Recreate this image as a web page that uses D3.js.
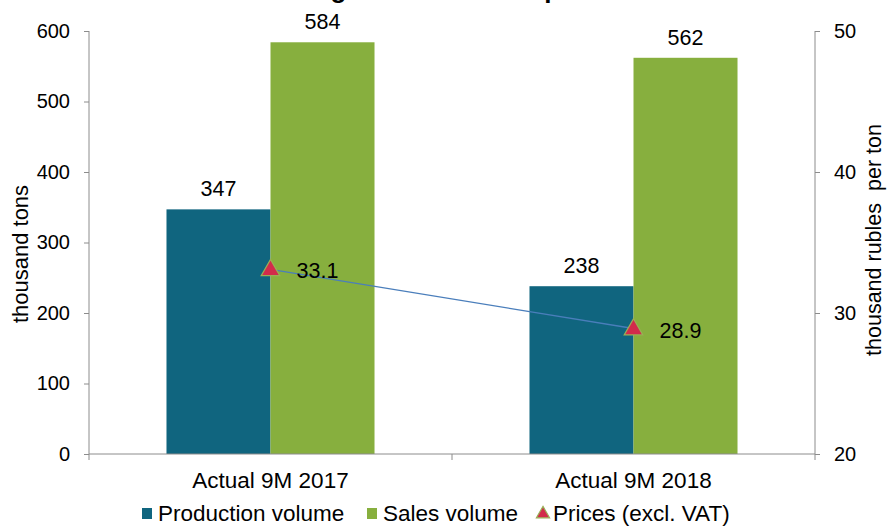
<!DOCTYPE html>
<html>
<head>
<meta charset="utf-8">
<script src="https://cdn.jsdelivr.net/npm/d3@7"></script>
<style>
  html, body { margin: 0; padding: 0; background: #fff; }
  svg { display: block; font-family: Arial, "Liberation Sans", sans-serif; }
</style>
</head>
<body>
<svg id="chart" width="887" height="527"></svg>
<script>
// Periods on the category axis
const categories = ["Actual 9M 2017", "Actual 9M 2018"];
// Volumes, thousand tons (left axis)
const productionVolume = [347, 238];
const salesVolume = [584, 562];
// Average price excl. VAT, thousand rubles per ton (right axis)
const prices = [33.1, 28.9];
// Axis ticks
const leftTicks = [0, 100, 200, 300, 400, 500, 600];
const rightTicks = [20, 30, 40, 50];

const title = "Sugar volumes and prices";
const seriesNames = ["Production volume", "Sales volume", "Prices (excl. VAT)"];
const colors = { production: "#10657f", sales: "#87af3e", price: "#d22b4b", priceStroke: "#9aae57", line: "#4a7ebb", axis: "#8c8c8c" };

const svg = d3.select("#chart");
const margin = { left: 89, right: 815, top: 31, bottom: 454 };

const x0 = d3.scaleBand().domain(categories).range([margin.left, margin.right]).padding(0);
const x1 = d3.scaleBand().domain(["production", "sales"]).range([0, x0.bandwidth()])
  .paddingInner(0).paddingOuter(0.745);
const yL = d3.scaleLinear().domain([0, 600]).range([margin.bottom, margin.top]);
const yR = d3.scaleLinear().domain([20, 50]).range([margin.bottom, margin.top]);

// Title (sits mostly above the visible area)
svg.append("text")
  .attr("x", 459).attr("y", -2)
  .attr("text-anchor", "middle")
  .attr("font-weight", "bold").attr("font-size", 26)
  .text(title);

// Bars
const rows = categories.map((c, i) => ({ cat: c, production: productionVolume[i], sales: salesVolume[i], price: prices[i] }));
const groups = svg.append("g").selectAll("g").data(rows).join("g")
  .attr("transform", d => `translate(${x0(d.cat)},0)`);

["production", "sales"].forEach(key => {
  groups.append("rect")
    .attr("x", x1(key))
    .attr("width", x1.bandwidth())
    .attr("y", d => yL(d[key]))
    .attr("height", d => yL(0) - yL(d[key]))
    .attr("fill", colors[key]);
  groups.append("text")
    .attr("x", x1(key) + x1.bandwidth() / 2)
    .attr("y", d => yL(d[key]) - 13)
    .attr("text-anchor", "middle")
    .attr("font-size", 21.5)
    .attr("fill", "#000")
    .text(d => d[key]);
});

// Left and right value axes
const leftAxis = d3.axisLeft(yL).tickValues(leftTicks).tickSize(5).tickPadding(14);
const gL = svg.append("g").attr("transform", `translate(${margin.left},0)`).call(leftAxis);
const rightAxis = d3.axisRight(yR).tickValues(rightTicks).tickSize(5).tickPadding(14);
const gR = svg.append("g").attr("transform", `translate(${margin.right},0)`).call(rightAxis);
[gL, gR].forEach(g => {
  g.select(".domain").attr("stroke", colors.axis).attr("d", `M0,${margin.top}V${margin.bottom}`);
  g.selectAll(".tick line").attr("stroke", colors.axis);
  g.selectAll(".tick text").attr("font-size", 20).attr("fill", "#000").attr("font-family", "Arial, 'Liberation Sans', sans-serif");
});

// Category axis with marks between categories
const gX = svg.append("g").attr("transform", `translate(0,${margin.bottom})`);
gX.append("line").attr("x1", margin.left).attr("x2", margin.right).attr("stroke", colors.axis);
const boundaries = [x0.range()[0]].concat(categories.map(c => x0(c) + x0.bandwidth()));
gX.selectAll(".sep").data(boundaries).join("line")
  .attr("x1", d => d).attr("x2", d => d).attr("y1", 0).attr("y2", 6)
  .attr("stroke", colors.axis);
gX.selectAll(".cat").data(categories).join("text")
  .attr("x", d => x0(d) + x0.bandwidth() / 2)
  .attr("y", 34)
  .attr("text-anchor", "middle")
  .attr("font-size", 22.5)
  .text(d => d);

// Axis titles
svg.append("text")
  .attr("transform", `translate(28,254) rotate(-90)`)
  .attr("text-anchor", "middle").attr("font-size", 22)
  .text("thousand tons");
svg.append("text")
  .attr("transform", `translate(881,240) rotate(-90)`)
  .attr("text-anchor", "middle").attr("font-size", 21.5)
  .style("white-space", "pre")
  .text("thousand rubles  per ton");

// Price line and markers
const px = d => x0(d.cat) + x0.bandwidth() / 2;
svg.append("path")
  .datum(rows)
  .attr("fill", "none").attr("stroke", colors.line).attr("stroke-width", 1.3)
  .attr("d", d3.line().x(px).y(d => yR(d.price)));
const tri = d3.symbol().type(d3.symbolTriangle).size(150);
svg.append("g").selectAll("path").data(rows).join("path")
  .attr("transform", d => `translate(${px(d)},${yR(d.price) + 1})`)
  .attr("d", tri)
  .attr("fill", colors.price).attr("stroke", colors.priceStroke).attr("stroke-width", 1.2);
svg.append("g").selectAll("text").data(rows).join("text")
  .attr("x", d => px(d) + 26)
  .attr("y", d => yR(d.price) + 9)
  .attr("font-size", 21.5)
  .text(d => d.price.toFixed(1));

// Legend
const legend = svg.append("g");
const legendItems = [
  { name: seriesNames[0], x: 142, kind: "rect", color: colors.production },
  { name: seriesNames[1], x: 367, kind: "rect", color: colors.sales },
  { name: seriesNames[2], x: 537, kind: "tri", color: colors.price }
];
legendItems.forEach(it => {
  if (it.kind === "rect") {
    legend.append("rect").attr("x", it.x).attr("y", 508).attr("width", 10).attr("height", 11).attr("fill", it.color);
  } else {
    legend.append("path").attr("transform", `translate(${it.x + 6},${514})`)
      .attr("d", d3.symbol().type(d3.symbolTriangle).size(75))
      .attr("fill", it.color).attr("stroke", colors.priceStroke).attr("stroke-width", 1.2);
  }
  legend.append("text").attr("x", it.x + 16).attr("y", 521).attr("font-size", 22.5).text(it.name);
});
</script>
</body>
</html>
